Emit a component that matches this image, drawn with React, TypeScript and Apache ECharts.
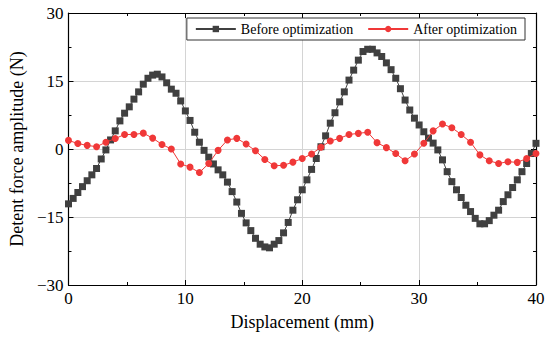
import React, { useEffect, useRef } from "react";
import * as echarts from "echarts";

const beforeX: number[] = Array.from({ length: 101 }, (_, i) => +(i * 0.4).toFixed(1));
const beforeValues: number[] = [
  -12.1, -10.9, -9.6, -8.3, -7.0, -5.7, -4.3, -2.2, -0.2, 2.0,
  4.0, 6.2, 7.9, 9.3, 11.0, 12.6, 14.3, 15.6, 16.3, 16.5,
  15.9, 14.6, 13.2, 12.3, 10.6, 8.4, 6.3, 3.7, 1.5, -0.3,
  -1.8, -3.3, -4.6, -5.7, -7.3, -9.4, -11.7, -14.2, -16.3, -18.0,
  -19.7, -21.0, -21.6, -21.8, -21.0, -20.2, -18.5, -16.2, -13.5, -11.2,
  -9.0, -6.8, -4.5, -2.1, 0.5, 2.9, 5.7, 8.0, 10.4, 12.6,
  15.2, 17.4, 19.6, 21.5, 22.0, 22.0, 21.2, 20.4, 19.0, 17.5,
  15.6, 13.3, 10.8, 8.6, 6.8, 5.3, 3.8, 2.4, 1.3, -0.2,
  -2.4, -5.0, -7.2, -9.0, -10.7, -12.4, -13.8, -15.3, -16.5, -16.5,
  -15.8, -14.6, -13.5, -11.6, -10.1, -8.5, -6.8, -5.0, -3.2, -1.0,
  1.25,
];

const afterX: number[] = Array.from({ length: 51 }, (_, i) => +(i * 0.8).toFixed(1));
const afterValues: number[] = [
  1.9, 1.2, 0.8, 0.5, 1.5, 2.3, 3.2, 3.2, 3.5, 2.4,
  1.0, 0.0, -3.3, -4.0, -5.2, -3.2, -0.3, 2.0, 2.35, 1.1,
  -0.4, -2.3, -3.7, -3.6, -2.9, -2.1, -1.1, 0.4, 1.75, 2.35,
  3.2, 3.45, 3.7, 1.4, 0.3, -1.0, -2.6, -1.1, 1.25, 4.0,
  5.5, 4.7, 3.2, 1.5, -1.3, -2.6, -3.2, -2.8, -2.95, -2.1,
  -1.0,
];

const seriesNames = ["Before optimization", "After optimization"];
const xTicks = { min: 0, max: 40, interval: 10 };
const yTicks = { min: -30, max: 30, interval: 15 };

const FONT = "Liberation Serif";

export default function App() {
  const ref = useRef<HTMLDivElement>(null);
  useEffect(() => {
    if (!ref.current) return;
    const chart = echarts.init(ref.current, undefined, { renderer: "svg" });
    const axisLine = { show: true, onZero: false, lineStyle: { color: "#000", width: 1.2 } };
    const tickIn = { show: true, inside: true, length: 5, lineStyle: { color: "#000" } };
    const minorIn = { show: true, splitNumber: 2, length: 3, lineStyle: { color: "#000" } };
    const labelStyle = {
      fontFamily: FONT,
      fontSize: 17,
      color: "#000",
      margin: 5,
    };
    chart.setOption({
      animation: false,
      textStyle: { fontFamily: FONT },
      grid: { left: 67, right: 14, top: 13, bottom: 56, containLabel: false },
      legend: {
        data: seriesNames,
        top: 18,
        right: 25,
        itemGap: 14,
        itemWidth: 40,
        itemHeight: 8,
        padding: [4, 8, 4, 8],
        borderColor: "#333",
        borderWidth: 1,
        borderRadius: 0,
        backgroundColor: "#fff",
        textStyle: { fontFamily: FONT, fontSize: 14, color: "#000" },
      },
      xAxis: [
        {
          type: "value",
          ...xTicks,
          name: "Displacement (mm)",
          nameLocation: "middle",
          nameGap: 28,
          nameTextStyle: { fontFamily: FONT, fontSize: 18, color: "#000" },
          axisLine,
          axisTick: tickIn,
          minorTick: minorIn,
          axisLabel: labelStyle,
          splitLine: { show: true, lineStyle: { color: "#d4d4d4", width: 1 } },
        },
        {
          type: "value",
          position: "top",
          ...xTicks,
          axisLine,
          axisTick: tickIn,
          minorTick: minorIn,
          axisLabel: { show: false },
          splitLine: { show: false },
        },
      ],
      yAxis: [
        {
          type: "value",
          ...yTicks,
          name: "Detent force amplitude (N)",
          nameLocation: "middle",
          nameGap: 39,
          nameTextStyle: { fontFamily: FONT, fontSize: 18, color: "#000" },
          axisLine,
          axisTick: tickIn,
          minorTick: minorIn,
          axisLabel: {
            ...labelStyle,
            formatter: (v: number) => String(v).replace("-", "\u2212"),
          },
          splitLine: { show: true, lineStyle: { color: "#d4d4d4", width: 1 } },
        },
        {
          type: "value",
          position: "right",
          ...yTicks,
          axisLine,
          axisTick: tickIn,
          minorTick: minorIn,
          axisLabel: { show: false },
          splitLine: { show: false },
        },
      ],
      series: [
        {
          name: seriesNames[0],
          type: "line",
          data: beforeX.map((x, i) => [x, beforeValues[i]]),
          symbol: "rect",
          symbolSize: 7,
          itemStyle: { color: "#404040" },
          lineStyle: { color: "#404040", width: 1 },
          z: 2,
        },
        {
          name: seriesNames[1],
          type: "line",
          data: afterX.map((x, i) => [x, afterValues[i]]),
          symbol: "circle",
          symbolSize: 7,
          itemStyle: { color: "#f03838" },
          lineStyle: { color: "#f03838", width: 1 },
          z: 3,
        },
      ],
    });
    return () => chart.dispose();
  }, []);
  return (
    <div
      ref={ref}
      style={{ position: "fixed", left: 0, top: 0, width: 550, height: 341, background: "#fff" }}
    />
  );
}
